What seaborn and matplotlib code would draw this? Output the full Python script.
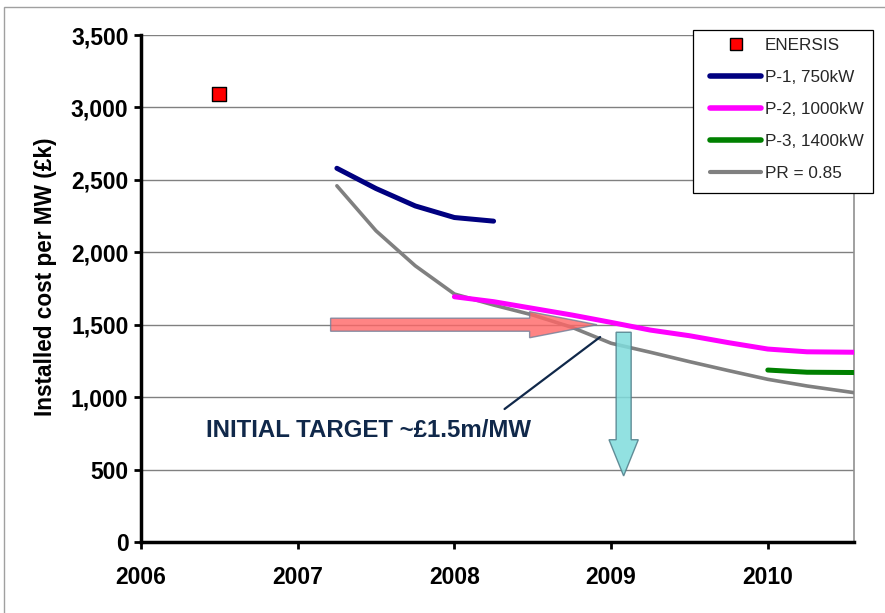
import matplotlib
matplotlib.use("Agg")
import matplotlib.pyplot as plt
from matplotlib.patches import FancyArrow, Rectangle
from matplotlib.lines import Line2D
import seaborn as sns

# ---- data ----
enersis_year = [2006.5]
enersis_cost = [3090]

p1_year = [2007.25, 2007.5, 2007.75, 2008.0, 2008.25]
p1_cost = [2580, 2440, 2320, 2240, 2215]

p2_year = [2008.0, 2008.25, 2008.5, 2008.75, 2009.0, 2009.25, 2009.5,
           2009.75, 2010.0, 2010.25, 2010.55]
p2_cost = [1693, 1659, 1613, 1567, 1516, 1463, 1424, 1376, 1332, 1313, 1310]

p3_year = [2010.0, 2010.25, 2010.55]
p3_cost = [1187, 1172, 1170]

pr_year = [2007.25, 2007.5, 2007.75, 2008.0, 2008.25, 2008.5, 2008.75,
           2009.0, 2009.25, 2009.5, 2009.75, 2010.0, 2010.25, 2010.55]
pr_cost = [2459, 2148, 1907, 1712, 1636, 1567, 1482, 1372, 1310, 1245,
           1183, 1123, 1077, 1031]

target_cost = 1500          # initial target, £k per MW
target_from, target_to = 2007.21, 2008.91
drop_year = 2009.08
drop_from, drop_to = 1448, 456

x_ticks = [2006, 2007, 2008, 2009, 2010]
y_ticks = [0, 500, 1000, 1500, 2000, 2500, 3000, 3500]

legend_labels = ["ENERSIS", "P-1, 750kW", "P-2, 1000kW", "P-3, 1400kW", "PR = 0.85"]

sns.set_theme(style="white")
plt.rcParams["font.family"] = ["Liberation Sans", "DejaVu Sans"]

W, H = 885, 613
fig = plt.figure(figsize=(W / 100, H / 100), dpi=100)
ax = fig.add_axes([141 / W, 1 - 542 / H, (854 - 141) / W, (542 - 35) / H])

# horizontal grid
for v in y_ticks:
    ax.axhline(v, color="#808080", lw=1.0, zorder=0)

# series
sns.lineplot(x=pr_year, y=pr_cost, ax=ax, color="#808080", lw=2.6, zorder=3)
sns.lineplot(x=p1_year, y=p1_cost, ax=ax, color="#000080", lw=3.6, zorder=3)
sns.lineplot(x=p2_year, y=p2_cost, ax=ax, color="#FF00FF", lw=3.6, zorder=3)
sns.lineplot(x=p3_year, y=p3_cost, ax=ax, color="#008000", lw=3.6, zorder=3)
sns.scatterplot(x=enersis_year, y=enersis_cost, ax=ax, marker="s", s=100,
                color="#FF0000", edgecolor="black", linewidth=1.0, zorder=4)

# target arrow (horizontal)
ax.add_patch(FancyArrow(target_from, target_cost, target_to - target_from, 0,
                        width=90, head_width=180, head_length=0.43,
                        length_includes_head=True, facecolor="#FF6666",
                        edgecolor="#6F7F99", alpha=0.8, lw=1.0, zorder=5))
# cost-reduction arrow (vertical)
ax.add_patch(FancyArrow(drop_year, drop_from, 0, drop_to - drop_from,
                        width=0.096, head_width=0.187, head_length=250,
                        length_includes_head=True, facecolor="#7FDCDC",
                        edgecolor="#4F7C88", alpha=0.85, lw=1.0, zorder=5))

# annotation: label and pointer line
ax.text(2006.415, 773, "INITIAL TARGET ~£1.5m/MW", fontsize=17.3, fontweight="bold",
        color="#10284A", va="center", ha="left", zorder=6)
ax.annotate("", xy=(2008.93, 1415), xytext=(2008.32, 918),
            arrowprops=dict(arrowstyle="-", color="#10284A", lw=1.6,
                            shrinkA=0, shrinkB=0), zorder=6)

ax.set_xlim(2006, 2010.55)
ax.set_ylim(0, 3500)
ax.set_xticks(x_ticks)
ax.set_yticks(y_ticks)
ax.set_xticklabels([str(t) for t in x_ticks])
ax.set_yticklabels([f"{t:,}" for t in y_ticks])
ax.tick_params(axis="both", direction="out", length=5, width=2, color="black",
               labelsize=16.5, labelcolor="black", bottom=True, left=True)
ax.tick_params(axis="x", pad=12)
ax.tick_params(axis="y", pad=4)
for lab in ax.get_xticklabels() + ax.get_yticklabels():
    lab.set_fontweight("bold")
ax.set_ylabel("Installed cost per MW (£k)", fontsize=16.3, fontweight="bold",
              color="black", labelpad=10)
ax.yaxis.label.set_y(0.523)

for side in ["left", "bottom"]:
    ax.spines[side].set_color("black")
    ax.spines[side].set_linewidth(2.5)
ax.spines["right"].set_color("#909090")
ax.spines["right"].set_linewidth(1.2)
ax.spines["top"].set_visible(False)

# legend: entries plus a separately drawn box
handles = [
    Line2D([], [], ls="none", marker="s", markersize=8, markerfacecolor="#FF0000",
           markeredgecolor="black", markeredgewidth=1.0),
    Line2D([], [], color="#000080", lw=4),
    Line2D([], [], color="#FF00FF", lw=4),
    Line2D([], [], color="#008000", lw=4),
    Line2D([], [], color="#808080", lw=3),
]
fig.legend(handles, legend_labels, loc="upper left",
           bbox_to_anchor=(710 / W, 1 - 38 / H), fontsize=12.3,
           frameon=False, handlelength=3.0, handletextpad=0.2,
           labelspacing=0.99, borderpad=0, borderaxespad=0)
fig.patches.append(Rectangle((693 / W, 1 - 193 / H), (873 - 693) / W, (193 - 30) / H,
                             transform=fig.transFigure, facecolor="white",
                             edgecolor="black", lw=0.9, zorder=2))

# outer frame
fig.patches.append(Rectangle((4 / W, -0.2), 2, 0.2 + 1 - 7 / H,
                             transform=fig.transFigure, fill=False,
                             edgecolor="#A0A0A0", lw=1.0))

fig.savefig("out.png", dpi=100)
